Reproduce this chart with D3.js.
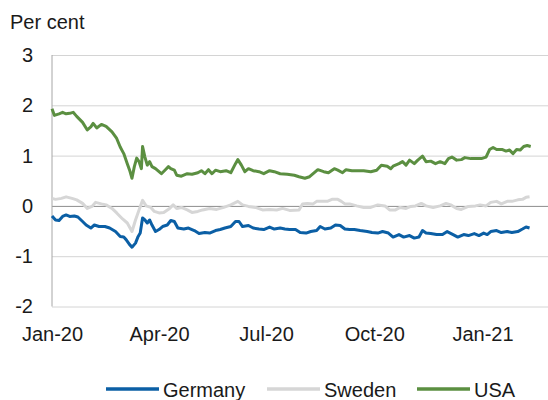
<!DOCTYPE html>
<html>
<head>
<meta charset="utf-8">
<script src="https://cdn.jsdelivr.net/npm/d3@7"></script>
<style>
    body { margin: 0; background: #fff; }
    text { font-family: "Liberation Sans", Arial, sans-serif; fill: #1a1a1a; }
</style>
</head>
<body>
<div id="content"></div>
<script>
// days since 2020-01-01, per cent
const germany = [[0,-0.20],[3,-0.28],[6,-0.29],[9,-0.21],[12,-0.18],[15,-0.21],[19,-0.20],[22,-0.22],[26,-0.31],[29,-0.38],[33,-0.44],[36,-0.38],[40,-0.41],[45,-0.41],[49,-0.44],[54,-0.51],[58,-0.61],[61,-0.62],[63,-0.67],[66,-0.77],[68,-0.82],[71,-0.74],[73,-0.62],[75,-0.54],[77,-0.24],[79,-0.28],[81,-0.34],[83,-0.28],[85,-0.38],[88,-0.51],[91,-0.47],[94,-0.41],[98,-0.38],[101,-0.29],[104,-0.31],[107,-0.44],[112,-0.46],[116,-0.44],[121,-0.49],[125,-0.55],[130,-0.53],[134,-0.54],[139,-0.49],[143,-0.47],[147,-0.44],[152,-0.41],[156,-0.31],[159,-0.31],[162,-0.41],[167,-0.39],[171,-0.44],[176,-0.46],[180,-0.47],[185,-0.42],[189,-0.46],[194,-0.44],[198,-0.46],[202,-0.47],[207,-0.47],[211,-0.53],[216,-0.54],[220,-0.51],[225,-0.49],[228,-0.41],[232,-0.46],[237,-0.44],[241,-0.38],[245,-0.39],[249,-0.46],[253,-0.47],[257,-0.47],[262,-0.49],[268,-0.51],[272,-0.53],[277,-0.54],[281,-0.51],[286,-0.54],[290,-0.62],[295,-0.57],[299,-0.62],[304,-0.59],[308,-0.64],[312,-0.62],[315,-0.49],[318,-0.54],[322,-0.55],[327,-0.57],[332,-0.57],[336,-0.51],[341,-0.57],[345,-0.62],[350,-0.57],[354,-0.59],[359,-0.55],[363,-0.59],[367,-0.54],[370,-0.57],[373,-0.51],[378,-0.49],[382,-0.53],[387,-0.51],[391,-0.53],[396,-0.51],[400,-0.46],[403,-0.42],[406,-0.44]];
const sweden = [[0,0.15],[3,0.13],[8,0.15],[12,0.18],[17,0.15],[21,0.12],[26,0.05],[30,-0.05],[34,-0.01],[37,0.07],[42,0.04],[46,0.02],[51,-0.05],[55,-0.14],[60,-0.26],[64,-0.34],[68,-0.51],[71,-0.28],[74,-0.08],[77,0.11],[80,0.00],[84,-0.03],[87,-0.11],[91,-0.14],[95,-0.13],[100,-0.05],[103,0.02],[106,-0.05],[110,-0.03],[115,-0.08],[119,-0.13],[124,-0.11],[128,-0.08],[134,-0.05],[140,-0.07],[146,-0.03],[152,0.02],[158,0.09],[162,0.02],[167,-0.01],[173,-0.03],[179,-0.08],[185,-0.07],[191,-0.08],[196,-0.05],[202,-0.09],[210,-0.08],[213,0.04],[217,0.05],[222,0.04],[225,0.09],[229,0.09],[234,0.09],[238,0.13],[243,0.13],[246,0.09],[249,0.04],[253,0.04],[259,0.00],[265,-0.03],[271,-0.03],[277,0.02],[283,0.00],[287,-0.08],[292,-0.08],[296,-0.03],[301,-0.05],[305,-0.01],[309,0.00],[314,0.05],[318,0.00],[324,-0.03],[330,0.00],[335,0.05],[339,0.02],[344,-0.05],[348,-0.07],[354,-0.01],[360,0.00],[364,0.02],[369,0.00],[373,0.07],[378,0.09],[382,0.04],[387,0.09],[391,0.09],[396,0.12],[400,0.13],[403,0.17],[406,0.18]];
const usa = [[0,1.93],[2,1.80],[6,1.83],[9,1.86],[12,1.83],[15,1.84],[18,1.86],[21,1.78],[26,1.66],[30,1.51],[33,1.57],[35,1.64],[38,1.55],[42,1.62],[46,1.58],[51,1.47],[55,1.34],[58,1.17],[61,1.04],[64,0.84],[66,0.71],[68,0.55],[70,0.78],[72,0.95],[74,0.88],[76,0.74],[77,1.18],[79,0.97],[81,0.81],[83,0.88],[85,0.78],[88,0.74],[93,0.64],[96,0.71],[99,0.78],[101,0.74],[104,0.71],[106,0.61],[110,0.59],[115,0.64],[119,0.63],[124,0.66],[127,0.70],[130,0.64],[133,0.72],[136,0.64],[139,0.71],[143,0.68],[148,0.70],[152,0.66],[156,0.84],[158,0.92],[161,0.81],[164,0.68],[167,0.74],[171,0.70],[176,0.68],[180,0.64],[185,0.70],[189,0.68],[194,0.64],[200,0.63],[206,0.61],[210,0.58],[215,0.55],[219,0.58],[224,0.68],[226,0.72],[231,0.68],[235,0.66],[240,0.74],[243,0.71],[247,0.66],[250,0.72],[255,0.70],[259,0.70],[265,0.70],[271,0.68],[276,0.71],[280,0.81],[285,0.79],[288,0.74],[290,0.79],[295,0.84],[298,0.88],[301,0.81],[304,0.91],[308,0.84],[311,0.91],[315,0.99],[318,0.88],[322,0.89],[326,0.84],[330,0.88],[334,0.84],[337,0.94],[340,0.97],[344,0.91],[348,0.92],[351,0.96],[356,0.94],[360,0.94],[365,0.94],[369,0.97],[372,1.12],[375,1.16],[378,1.12],[383,1.12],[386,1.09],[389,1.11],[392,1.04],[395,1.12],[398,1.11],[401,1.18],[404,1.20],[407,1.18]];

const seriesNames = ['Germany', 'Sweden', 'USA'];
const seriesColors = ['#0b5fa5', '#d6d6d6', '#5b8f41'];
const yTicks = [-2, -1, 0, 1, 2, 3];
const xTicks = ['2020-01-01', '2020-04-01', '2020-07-01', '2020-10-01', '2021-01-01'];
const xTickLabels = ['Jan-20', 'Apr-20', 'Jul-20', 'Oct-20', 'Jan-21'];

window.addEventListener('load', function () {
    let width = 548;
    let height = 400;
    let left = 52;
    let start = new Date(2020, 0, 1);
    let parse = d3.timeParse('%Y-%m-%d');

    let xScale = d3.scaleTime().domain([start, new Date(2021, 0, 1)]).range([left, 482.5]);
    let yScale = d3.scaleLinear().domain([-2, 3]).range([306.5, 55]);

    let svg = d3.select('#content').append('svg').attr('width', width).attr('height', height);

    svg.append('text').text('Per cent').attr('x', 10).attr('y', 29).style('font-size', '20px');

    // grid + y labels
    let yAxis = d3.axisLeft(yScale).tickValues(yTicks).tickSize(-(width - left)).tickPadding(19).tickFormat(d => String(d));
    let gy = svg.append('g').attr('transform', `translate(${left},0)`).call(yAxis);
    gy.select('.domain').remove();
    gy.selectAll('.tick line').attr('stroke', d => d === 0 ? '#8c8c8c' : '#d4d4d4').attr('stroke-width', 1);
    gy.selectAll('.tick text').style('font-size', '20px').attr('fill', '#1a1a1a');

    svg.append('line').attr('x1', left).attr('x2', left).attr('y1', yScale(3)).attr('y2', yScale(-2))
        .attr('stroke', '#a6a6a6').attr('stroke-width', 1);

    let xAxis = d3.axisBottom(xScale).tickValues(xTicks.map(parse)).tickSize(0).tickPadding(20)
        .tickFormat((d, i) => xTickLabels[i]);
    let gx = svg.append('g').attr('transform', `translate(0,${yScale(-2)})`).call(xAxis);
    gx.select('.domain').remove();
    gx.selectAll('.tick text').style('font-size', '20px').attr('fill', '#1a1a1a');

    let line = d3.line()
        .x(d => xScale(d3.timeDay.offset(start, d[0])))
        .y(d => yScale(d[1]));

    let data = [germany, sweden, usa];
    // draw Sweden first so the others sit on top
    [1, 0, 2].forEach(i => {
        svg.append('path').datum(data[i])
            .attr('fill', 'none')
            .attr('stroke', seriesColors[i])
            .attr('stroke-width', 3)
            .attr('stroke-linejoin', 'round')
            .attr('d', line);
    });

    // legend
    let legendX = [106, 267, 417];
    let legend = svg.selectAll('.legend').data(seriesNames).enter().append('g')
        .attr('class', 'legend')
        .attr('transform', (d, i) => `translate(${legendX[i]},389)`);
    legend.append('line').attr('x1', 0).attr('x2', 53).attr('y1', 0).attr('y2', 0)
        .attr('stroke', (d, i) => seriesColors[i]).attr('stroke-width', 3.5);
    legend.append('text').text(d => d).attr('x', 57).attr('y', 8).style('font-size', '20px');
});
</script>
</body>
</html>
